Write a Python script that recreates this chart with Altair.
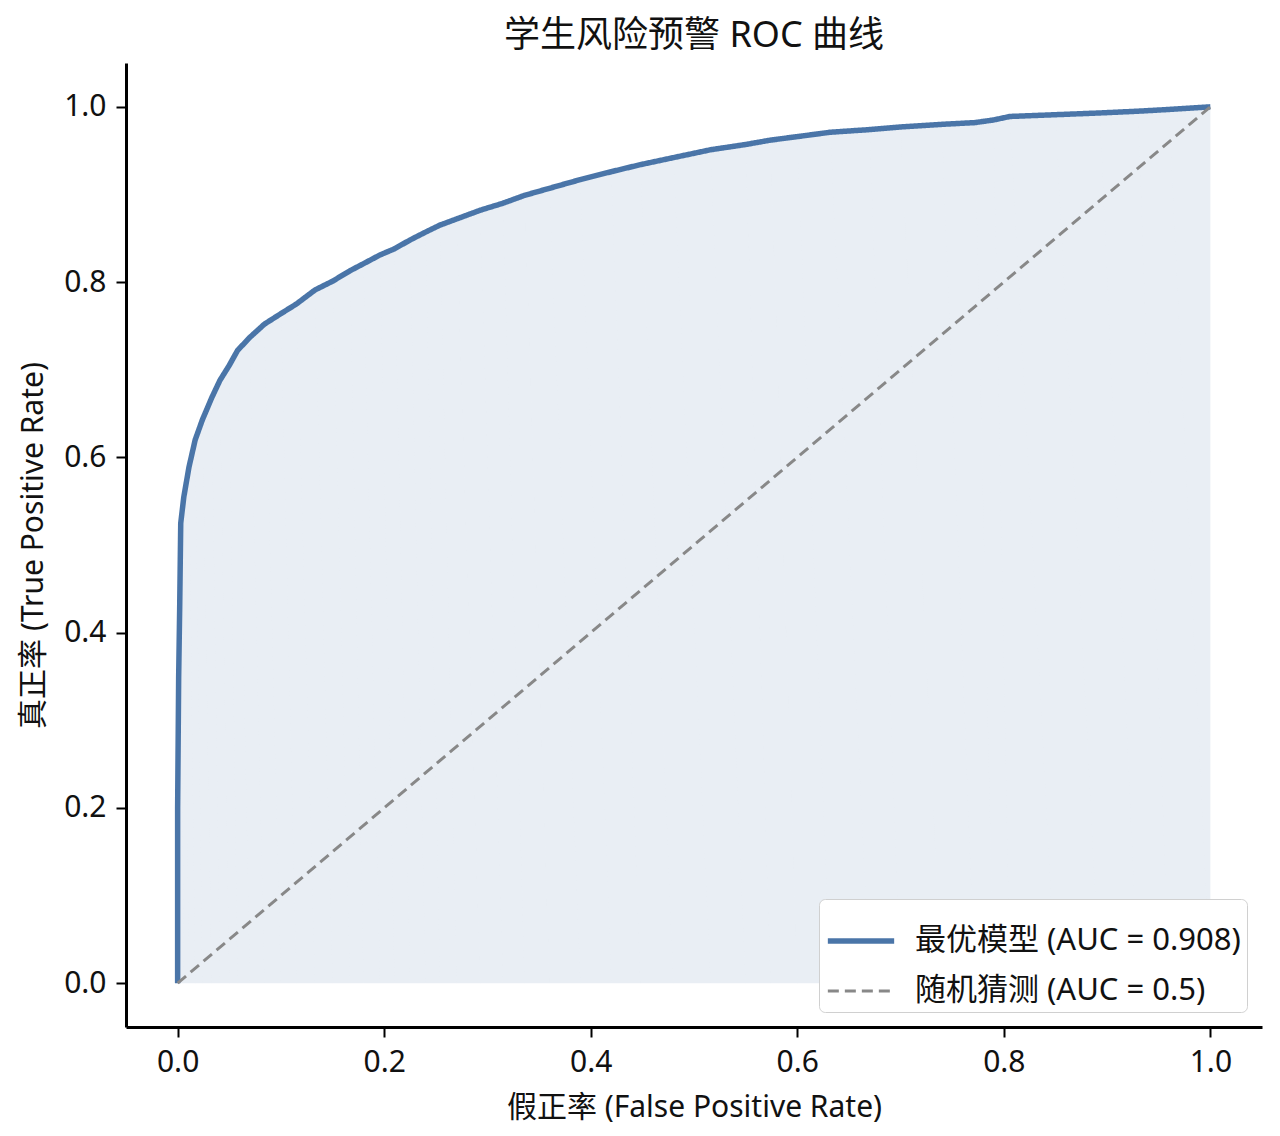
import pandas as pd
import altair as alt

# ROC points
fpr = [0.0, 0.0, 0.001, 0.002, 0.003, 0.006, 0.011, 0.017, 0.024, 0.033,
       0.041, 0.05, 0.058, 0.07, 0.084, 0.1, 0.115, 0.133, 0.15, 0.167,
       0.18, 0.196, 0.21, 0.225, 0.24, 0.254, 0.27, 0.293, 0.315, 0.336,
       0.36, 0.39, 0.42, 0.448, 0.48, 0.516, 0.55, 0.574, 0.6, 0.632,
       0.67, 0.70, 0.74, 0.772, 0.79, 0.806, 0.85, 0.893, 0.93, 0.96, 1.0]
tpr = [0.0, 0.2, 0.35, 0.43, 0.525, 0.555, 0.589, 0.62, 0.643, 0.668,
       0.688, 0.705, 0.722, 0.737, 0.752, 0.764, 0.775, 0.791, 0.801, 0.813,
       0.821, 0.831, 0.838, 0.848, 0.857, 0.865, 0.872, 0.882, 0.89, 0.899,
       0.907, 0.917, 0.926, 0.934, 0.942, 0.951, 0.957, 0.962, 0.966, 0.971,
       0.974, 0.977, 0.98, 0.982, 0.985, 0.989, 0.991, 0.993, 0.995, 0.997, 1.0]

diag_x = [0.0, 1.0]
diag_y = [0.0, 1.0]

series = ["最优模型 (AUC = 0.908)", "随机猜测 (AUC = 0.5)"]
colors = ["#4A75A8", "#888888"]

FONT = "'Noto Sans', 'Noto Sans CJK SC', sans-serif"

roc = pd.DataFrame({"fpr": fpr, "tpr": tpr, "series": series[0]})
roc["idx"] = range(len(roc))
diag = pd.DataFrame({"fpr": diag_x, "tpr": diag_y, "series": series[1]})
diag["idx"] = range(len(diag))
lines = pd.concat([roc, diag], ignore_index=True)

x_enc = alt.X("fpr:Q", title="假正率 (False Positive Rate)",
              scale=alt.Scale(domain=[-0.05, 1.05], nice=False, zero=False),
              axis=alt.Axis(values=[0, 0.2, 0.4, 0.6, 0.8, 1.0], format=".1f"))
y_enc = alt.Y("tpr:Q", title="真正率 (True Positive Rate)",
              scale=alt.Scale(domain=[-0.05, 1.05], nice=False, zero=False),
              axis=alt.Axis(values=[0, 0.2, 0.4, 0.6, 0.8, 1.0], format=".1f"))

area = alt.Chart(roc).mark_area(color=colors[0], opacity=0.12).encode(
    x=x_enc,
    y=y_enc,
    order="idx:Q",
)

curve = alt.Chart(lines).mark_line().encode(
    x=x_enc,
    y=y_enc,
    order="idx:Q",
    color=alt.Color("series:N", scale=alt.Scale(domain=series, range=colors),
                    legend=alt.Legend(title=None)),
    strokeDash=alt.StrokeDash("series:N",
                              scale=alt.Scale(domain=series, range=[[1, 0], [11, 6]])),
    strokeWidth=alt.StrokeWidth("series:N",
                                scale=alt.Scale(domain=series, range=[5.5, 3])),
)

chart = (
    alt.layer(area, curve)
    .properties(
        width=1136,
        height=964,
        title="学生风险预警 ROC 曲线",
        autosize=alt.AutoSizeParams(type="none"),
        padding={"left": 118, "top": 55, "right": 10, "bottom": 100},
    )
    .configure_view(strokeWidth=0)
    .configure_axis(
        grid=False,
        domainColor="black",
        domainWidth=3,
        tickColor="black",
        tickWidth=2,
        tickSize=10,
        labelFont=FONT,
        labelFontSize=30,
        labelColor="#111111",
        labelPadding=10,
        titleFont=FONT,
        titleFontSize=30,
        titleFontWeight="normal",
        titleColor="#111111",
        titlePadding=15,
    )
    .configure_legend(
        orient="bottom-right",
        offset=15,
        fillColor="white",
        strokeColor="#d0d0d0",
        cornerRadius=6,
        padding=6,
        labelFont=FONT,
        labelFontSize=31,
        labelColor="#111111",
        labelLimit=500,
        labelOffset=18,
        symbolType="stroke",
        symbolSize=4400,
        rowPadding=-6,
    )
    .configure_title(font=FONT, fontSize=36, fontWeight="normal",
                     color="#111111", offset=8)
)

chart.save("out.html", embed_options={"renderer": "svg", "actions": False})
